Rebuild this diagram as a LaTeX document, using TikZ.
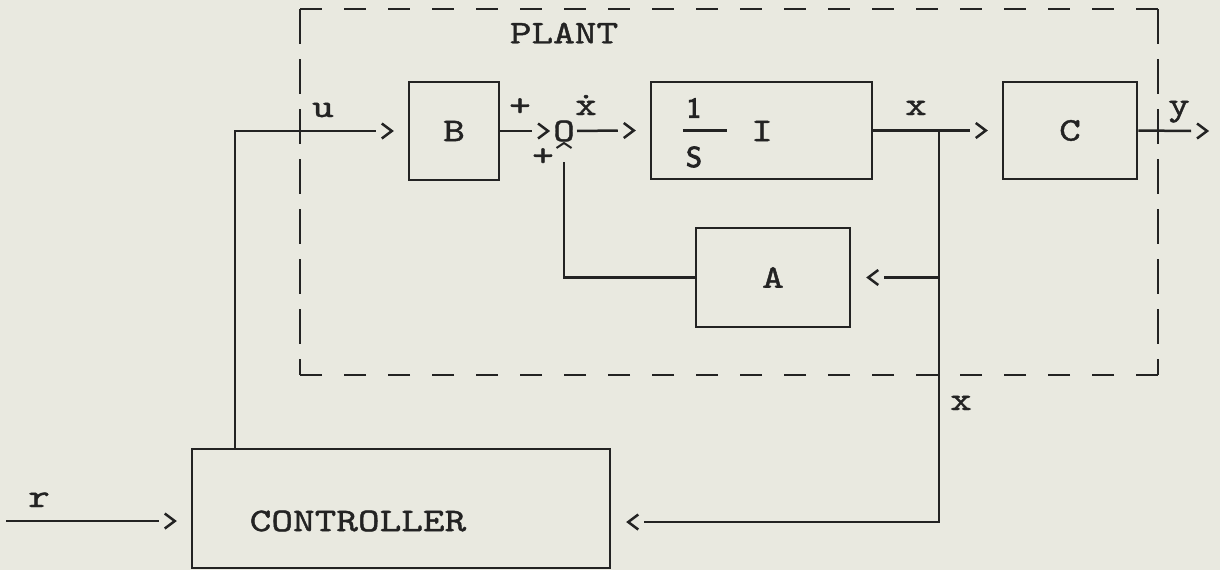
\documentclass[tikz,border=0pt]{standalone}
\usepackage{fontspec}
\setmonofont{lmmono10-regular.otf}[FakeBold=1.3, FakeStretch=1.25]
\newfontfamily\sfone{lmsans10-regular.otf}[FakeBold=4]
\usetikzlibrary{calc}
\newcommand{\tw}[1]{#1}
\definecolor{ink}{RGB}{35,35,35}
\definecolor{paper}{RGB}{233,233,224}
\begin{document}
\begin{tikzpicture}[x=1pt,y=-1pt,color=ink,
  ln/.style={line width=2.5pt},
  blk/.style={draw, line width=2.5pt, inner sep=0pt},
  txt/.style={font=\ttfamily\fontsize{33}{33}\selectfont, inner sep=0pt},
  sf/.style={font=\sfone\fontsize{28}{28}\selectfont, inner sep=0pt},
  dh/.style={line width=2.7pt, dash pattern=on 22pt off 22pt},
  dv/.style={line width=2.7pt, dash pattern=on 35pt off 15pt},
  chevR/.pic={\draw[line width=2.5pt] (-10,-7.5) -- (0,0) -- (-10,7.5);},
  chevL/.pic={\draw[line width=2.5pt] (10,-7.5) -- (0,0) -- (10,7.5);},
]
\fill[paper] (0,0) rectangle (1220,570);
\useasboundingbox (0,0) rectangle (1220,570);

% plant boundary
\draw[dh] (300,9) -- (1158,9);
\draw[dv] (1158,9) -- (1158,375);
\draw[dh] (1158,375) -- (300,375);
\draw[dv] (300,9) -- (300,375);
\node[txt] (P) at (564,33) {\tw{PLANT}};

% blocks
\node[blk, txt, minimum width=90pt, minimum height=98pt] (B) at (454,131) {\tw{B}};
\node[blk, minimum width=221pt, minimum height=97pt] (I) at (761.5,130.5) {};
\node[sf] (one) at (694,108) {1};
\node[sf] (S) at (694,157) {S};
\draw[ln] ($(I.west)+(33,0)$) -- ($(I.west)+(77,0)$);
\node[txt] (Il) at (762,131) {\tw{I}};
\node[blk, txt, minimum width=134pt, minimum height=97pt] (C) at (1070,130.5) {\tw{C}};
\node[blk, txt, minimum width=154pt, minimum height=99pt] (A) at (773,277.5) {\tw{A}};
\node[blk, minimum width=418pt, minimum height=119pt] (K) at (401,508.5) {};
\node[txt] (Kl) at (358,521) {\tw{CONTROLLER}};

% summing junction
\node[txt] (sum) at (564,131) {\tw{O}};
\draw[line width=2pt] ($(sum)+(-7.5,17)$) -- ($(sum)+(0,12)$) -- ($(sum)+(7.5,17)$);
\node[txt] (p1) at (520,107) {\tw{+}};
\node[txt] (p2) at (543,157) {\tw{+}};
\node[txt, anchor=base] (xd) at (586,115) {\tw{\.{x}}};

% signal u
\coordinate (uj) at (235,131);
\draw[ln] (uj |- K.north) -- (uj) -- ($(B.west)+(-32,0)$);
\pic at ($(B.west)+(-16,0)$) {chevR};
\node[txt, anchor=base] (u) at (323,117) {\tw{u}};

% B -> sum -> integrator
\draw[ln] (B.east) -- ($(sum)+(-32,0)$);
\pic at ($(sum)+(-16,0)$) {chevR};
\draw[ln] ($(sum)+(13,0)$) -- ($(I.west)+(-32,0)$);
\pic at ($(I.west)+(-16,0)$) {chevR};

% state x
\coordinate (xt) at (939,131);
\draw[ln] (I.east) -- ($(C.west)+(-32,0)$);
\pic at ($(C.west)+(-16,0)$) {chevR};
\node[txt, anchor=base] (xl1) at (916,115) {\tw{x}};

% output y
\coordinate (yend) at (1191,131);
\draw[ln] (C.east) -- (yend);
\pic at ($(yend)+(16,0)$) {chevR};
\node[txt, anchor=base] (yl) at (1179,115) {\tw{y}};

% feedback through A
\draw[ln] (xt |- A.east) -- ($(A.east)+(33,0)$);
\pic at ($(A.east)+(17,0)$) {chevL};
\draw[ln] (A.west) -- (A.west -| sum) -- ($(sum)+(0,31)$);

% state feedback to controller
\coordinate (fb) at (939,522);
\draw[ln] (xt) -- (fb) -- ($(K.east |- fb)+(33,0)$);
\pic at ($(K.east |- fb)+(17,0)$) {chevL};
\node[txt, anchor=base] (xl2) at (961,410) {\tw{x}};

% reference r
\coordinate (rs) at (6,521);
\draw[ln] (rs) -- ($(K.west |- rs)+(-32,0)$);
\pic at ($(K.west |- rs)+(-16,0)$) {chevR};
\node[txt, anchor=base] (rl) at (39,507) {\tw{r}};
\end{tikzpicture}
\end{document}
